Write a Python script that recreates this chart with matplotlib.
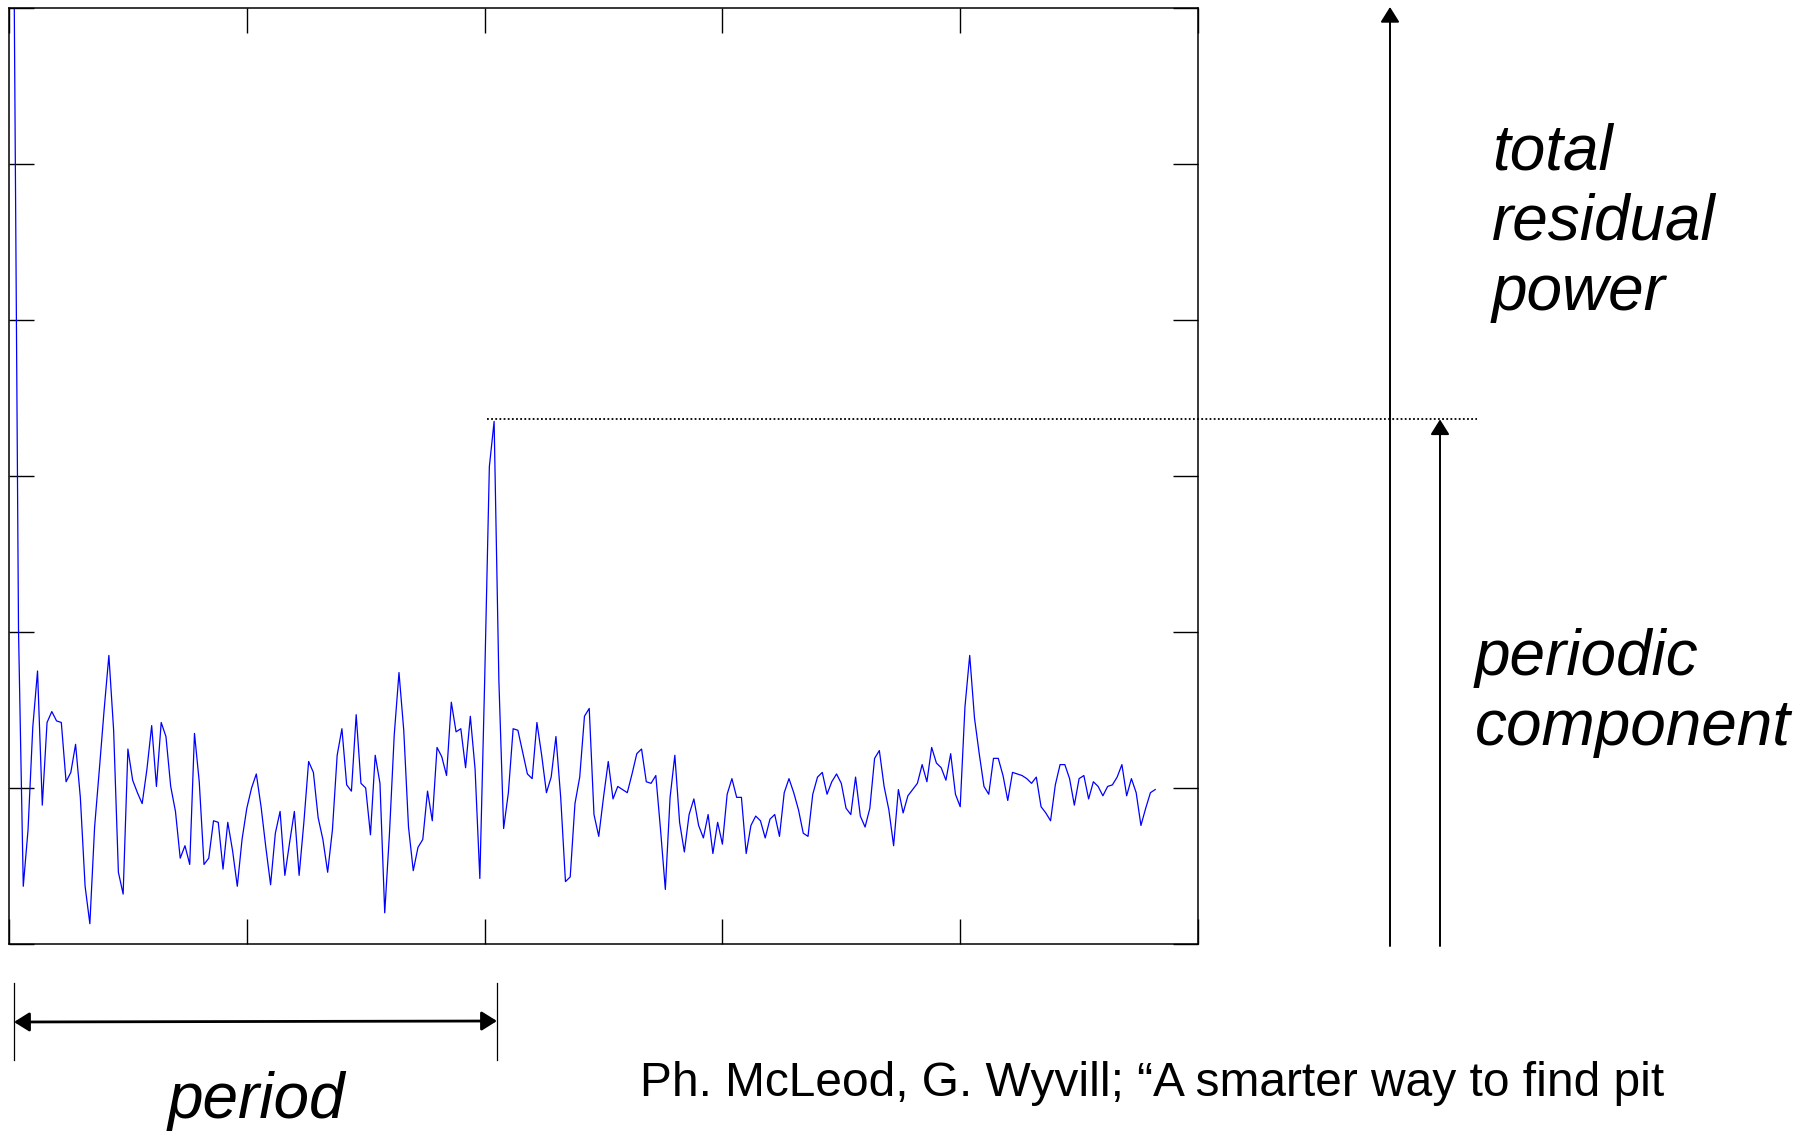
import numpy as np
import matplotlib
matplotlib.use('Agg')
import matplotlib.pyplot as plt
from matplotlib.patches import FancyArrowPatch
from matplotlib.lines import Line2D

# ---- data ----
power = [
    12.0, 6.5, 2.01, 0.37, 0.73, 1.39, 1.75, 0.89, 1.42, 1.49,
    1.43, 1.42, 1.04, 1.10, 1.28, 0.94, 0.37, 0.13, 0.75, 1.12,
    1.50, 1.85, 1.37, 0.46, 0.32, 1.25, 1.05, 0.97, 0.90, 1.12,
    1.40, 1.01, 1.42, 1.33, 1.01, 0.85, 0.55, 0.63, 0.51, 1.35,
    1.04, 0.51, 0.55, 0.79, 0.78, 0.48, 0.78, 0.60, 0.37, 0.67,
    0.87, 1.00, 1.09, 0.88, 0.62, 0.38, 0.71, 0.85, 0.44, 0.65,
    0.85, 0.44, 0.78, 1.17, 1.10, 0.81, 0.67, 0.46, 0.73, 1.21,
    1.38, 1.02, 0.98, 1.47, 1.03, 1.00, 0.70, 1.21, 1.03, 0.20,
    0.71, 1.34, 1.74, 1.37, 0.75, 0.47, 0.62, 0.67, 0.98, 0.79,
    1.26, 1.20, 1.08, 1.55, 1.36, 1.38, 1.13, 1.46, 1.12, 0.42,
    1.67, 3.06, 3.35, 1.69, 0.74, 0.97, 1.38, 1.37, 1.23, 1.09,
    1.06, 1.42, 1.21, 0.97, 1.07, 1.33, 0.94, 0.40, 0.43, 0.90,
    1.07, 1.46, 1.51, 0.83, 0.69, 0.94, 1.17, 0.93, 1.01, 0.99,
    0.97, 1.09, 1.22, 1.25, 1.04, 1.03, 1.08, 0.73, 0.35, 0.94,
    1.21, 0.78, 0.59, 0.83, 0.93, 0.76, 0.68, 0.83, 0.58, 0.78,
    0.64, 0.96, 1.06, 0.94, 0.94, 0.58, 0.76, 0.82, 0.79, 0.68,
    0.80, 0.83, 0.69, 0.97, 1.06, 0.97, 0.86, 0.71, 0.69, 0.96,
    1.07, 1.10, 0.96, 1.04, 1.09, 1.03, 0.87, 0.83, 1.07, 0.82,
    0.75, 0.87, 1.19, 1.24, 1.01, 0.86, 0.63, 0.99, 0.84, 0.95,
    0.99, 1.03, 1.15, 1.04, 1.26, 1.16, 1.13, 1.05, 1.22, 0.96,
    0.88, 1.52, 1.85, 1.45, 1.22, 1.01, 0.96, 1.19, 1.19, 1.08,
    0.92, 1.10, 1.09, 1.08, 1.06, 1.03, 1.07, 0.88, 0.84, 0.79,
    1.02, 1.15, 1.15, 1.06, 0.89, 1.06, 1.08, 0.93, 1.04, 1.01,
    0.95, 1.01, 1.02, 1.07, 1.15, 0.95, 1.06, 0.97, 0.76, 0.87,
    0.97, 0.99,
]
lag = np.arange(len(power))
x_ticks = [0, 50, 100, 150, 200, 250]
y_ticks = [0, 1, 2, 3, 4, 5, 6]

labels_total = ["total", "residual", "power"]
labels_periodic = ["periodic", "component"]
label_period = "period"
citation = "Ph. McLeod, G. Wyvill; \u201cA smarter way to find pit"

# ---- figure ----
W, H = 1803, 1133
fig = plt.figure(figsize=(W / 100, H / 100), dpi=100)
fig.patch.set_facecolor('white')


def fx(px):
    return px / W


def fy(py):
    return 1 - py / H


ax = fig.add_axes([fx(9), fy(944), 1189 / W, 936 / H])
ax.plot(lag, power, color='#0000ff', lw=0.9)
ax.set_xlim(0, 250)
ax.set_ylim(0, 6)
ax.set_xticks(x_ticks)
ax.set_yticks(y_ticks)
ax.tick_params(direction='in', length=18, width=1.0, top=True, right=True,
               labelbottom=False, labelleft=False, colors='black')
for s in ax.spines.values():
    s.set_linewidth(1.1)
    s.set_color('black')

# peak of the periodic component
seg = np.array(power[50:160])
pk_idx = 50 + int(np.argmax(seg))
pk_val = power[pk_idx]
pk_disp = ax.transData.transform((pk_idx, pk_val))
pk_start = ax.transData.transform((pk_idx - 1.5, pk_val))
pk_y = (pk_disp[1] + 2) / H  # figure fraction

# dotted level line
fig.add_artist(Line2D([pk_start[0] / W, fx(1477)], [pk_y, pk_y],
                      transform=fig.transFigure, color='black', lw=1.3,
                      linestyle=(0, (1, 1.3))))

arrow_kw = dict(arrowstyle='-|>,head_length=0.32,head_width=0.2',
                mutation_scale=29, color='black', lw=1.4,
                shrinkA=0, shrinkB=0, transform=fig.transFigure)
# total residual power arrow
fig.add_artist(FancyArrowPatch((fx(1390), fy(946)), (fx(1390), fy(7)), **arrow_kw))
# periodic component arrow
fig.add_artist(FancyArrowPatch((fx(1440), fy(946)), (fx(1440), pk_y), **arrow_kw))

# period double arrow
fig.add_artist(FancyArrowPatch((fx(14), fy(1022)), (fx(497), fy(1021)),
                               arrowstyle='<|-|>,head_length=0.32,head_width=0.2',
                               mutation_scale=29, color='black', lw=2.0,
                               shrinkA=0, shrinkB=0, transform=fig.transFigure))
for bx in (14, 497):
    fig.add_artist(Line2D([fx(bx), fx(bx)], [fy(983), fy(1060)],
                          transform=fig.transFigure, color='black', lw=0.9))

FONT = ['Liberation Sans', 'DejaVu Sans']


def ftext(x, y, s, size, style):
    fig.text(fx(x), fy(y), s, fontsize=size, style=style, family=FONT,
             ha='left', va='baseline', color='black')


for i, s in enumerate(labels_total):
    ftext(1492, 170 + 70 * i, s, 46, 'italic')
for i, s in enumerate(labels_periodic):
    ftext(1475, 675 + 70 * i, s, 46, 'italic')
ftext(168, 1118, label_period, 46, 'italic')
ftext(640, 1096, citation, 34.5, 'normal')

fig.savefig('out.png', dpi=100)
